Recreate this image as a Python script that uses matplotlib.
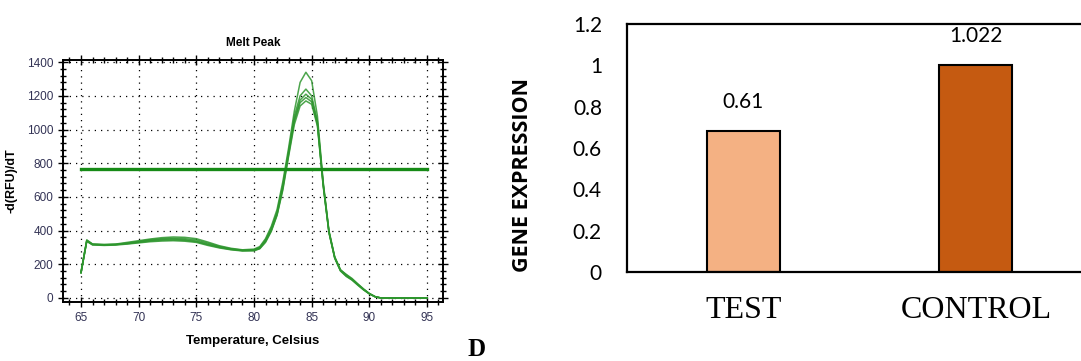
import matplotlib
matplotlib.use("Agg")
import matplotlib.pyplot as plt
from matplotlib.ticker import MultipleLocator

# melt peak curves
temps = [65, 65.5, 66, 67, 68, 69, 70, 71, 72, 73, 74, 75, 76, 77, 78, 79, 80, 80.5,
         81, 81.5, 82, 82.5, 83, 83.5, 84, 84.5, 85, 85.5, 86, 86.5, 87, 87.5, 88,
         88.5, 89, 89.5, 90, 90.5, 91, 92, 93, 94, 95]
curve_a = [150, 345, 320, 318, 320, 330, 340, 350, 358, 362, 360, 352, 332, 310, 295, 286, 290, 305,
           352, 425, 525, 690, 890, 1110, 1280, 1340, 1290, 1080, 690, 400, 245, 168, 138,
           112, 82, 52, 26, 8, 0, 0, 0, 0, 0]
curve_b = [155, 340, 318, 315, 318, 326, 336, 346, 352, 355, 352, 345, 326, 306, 292, 284, 286, 300,
           345, 415, 510, 670, 870, 1080, 1200, 1240, 1200, 1050, 680, 395, 242, 166, 140,
           116, 84, 54, 27, 8, 0, 0, 0, 0, 0]
curve_c = [150, 338, 316, 314, 316, 324, 333, 342, 348, 350, 346, 338, 320, 302, 290, 282, 284, 296,
           340, 405, 500, 660, 860, 1060, 1175, 1210, 1180, 1040, 675, 392, 240, 164, 134,
           110, 80, 51, 26, 8, 0, 0, 0, 0, 0]
curve_d = [152, 342, 320, 316, 318, 322, 330, 338, 343, 345, 342, 334, 316, 300, 288, 281, 282, 294,
           335, 400, 495, 650, 850, 1050, 1160, 1190, 1165, 1030, 670, 390, 238, 162, 130,
           108, 78, 49, 25, 7, 0, 0, 0, 0, 0]
curve_e = [148, 336, 315, 312, 314, 320, 327, 334, 338, 340, 337, 330, 312, 297, 286, 279, 280, 292,
           330, 395, 490, 640, 840, 1030, 1140, 1170, 1150, 1020, 665, 388, 236, 160, 128,
           106, 76, 48, 24, 7, 0, 0, 0, 0, 0]
threshold = 765

# gene expression bars
groups = ["TEST", "CONTROL"]
bar_heights = [0.68, 1.0]
bar_labels = ["0.61", "1.022"]
bar_colors = ["#F4B183", "#C55A11"]

fig = plt.figure(figsize=(10.81, 3.61), dpi=100)

# ---- left: melt peak ----
sans = ["Liberation Sans", "DejaVu Sans"]
ax1 = fig.add_axes([0.0583, 0.1634, 0.3515, 0.670])
for c in [curve_a, curve_b, curve_c, curve_d, curve_e]:
    ax1.plot(temps, c, color="#2e962e", lw=1.1, alpha=0.85)
ax1.plot([temps[0], temps[-1]], [threshold, threshold], color="#168a16", lw=2.4)
ax1.set_xlim(63.44, 96.39)
ax1.set_ylim(-24, 1412)
ax1.xaxis.set_major_locator(MultipleLocator(5))
ax1.xaxis.set_minor_locator(MultipleLocator(1))
ax1.yaxis.set_major_locator(MultipleLocator(200))
ax1.yaxis.set_minor_locator(MultipleLocator(40))
ax1.grid(True, which="major", color="black", linestyle=(0, (1, 4)), lw=0.9)
ax1.tick_params(which="both", direction="inout", top=True, right=True,
                labelsize=8.5, labelcolor="#333355", width=1)
ax1.tick_params(which="major", length=7)
ax1.tick_params(which="minor", length=4)
for lab in ax1.get_xticklabels() + ax1.get_yticklabels():
    lab.set_family(sans)
for s in ax1.spines.values():
    s.set_linewidth(1.4)
ax1.set_title("Melt Peak", fontsize=8.5, fontweight="bold", pad=10, family=sans)
ax1.set_xlabel("Temperature, Celsius", fontsize=9.5, fontweight="bold", labelpad=8, family=sans)
ax1.set_ylabel("-d(RFU)/dT", fontsize=9, fontweight="bold", family=sans)
ax1.yaxis.set_label_coords((17 - 63) / 380, 0.5)

fig.text(477 / 1081, 1 - 349 / 361, "D", fontsize=18, fontweight="bold",
         family="Liberation Serif", ha="center", va="center")

# ---- right: gene expression ----
ax2 = fig.add_axes([0.580, 0.2465, 0.42, 0.687])
xpos = list(range(len(groups)))
ax2.bar(xpos, bar_heights, width=0.314, color=bar_colors, edgecolor="black", lw=1.5)
for x, h, t in zip(xpos, bar_heights, bar_labels):
    ax2.annotate(t, (x, h), xytext=(0, 21), textcoords="offset points",
                 ha="center", va="center", fontsize=15, family="Lato")
ax2.set_xlim(-0.501, 1.452)
ax2.set_ylim(0, 1.2)
ax2.set_yticks([0, 0.2, 0.4, 0.6, 0.8, 1, 1.2])
ax2.set_yticklabels(["0", "0.2", "0.4", "0.6", "0.8", "1", "1.2"], family="Lato", fontsize=15)
ax2.set_xticks(xpos)
ax2.set_xticklabels(groups, family="Liberation Serif", fontsize=23)
ax2.tick_params(axis="y", length=0, pad=18)
ax2.tick_params(axis="x", length=0, pad=17)
ax2.spines["right"].set_visible(False)
for k in ["left", "top", "bottom"]:
    ax2.spines[k].set_linewidth(1.6)
ax2.set_ylabel("GENE EXPRESSION", fontsize=15.5, fontweight="bold", family="Open Sans")
ax2.yaxis.set_label_coords(-0.207, 0.39)

fig.savefig("out.png", dpi=100)
